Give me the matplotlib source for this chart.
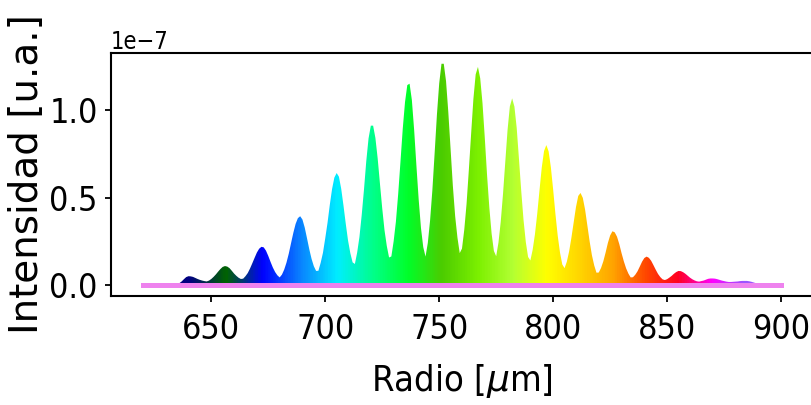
import matplotlib
matplotlib.use("Agg")
import matplotlib.pyplot as plt
from matplotlib.colors import LinearSegmentedColormap
import numpy as np

# intensity profile, one sample per micrometre (units of 1e-7)
radio = np.arange(632, 893)
intensidad = [
    0.000, 0.000, 0.002, 0.005, 0.010, 0.020, 0.033, 0.045, 0.050, 0.049,  # 632-641
    0.046, 0.040, 0.034, 0.029, 0.025, 0.022, 0.020, 0.025, 0.034, 0.046,  # 642-651
    0.060, 0.076, 0.091, 0.103, 0.108, 0.105, 0.096, 0.081, 0.065, 0.052,  # 652-661
    0.041, 0.034, 0.036, 0.050, 0.068, 0.094, 0.124, 0.155, 0.185, 0.207,  # 662-671
    0.218, 0.215, 0.196, 0.166, 0.132, 0.100, 0.074, 0.055, 0.043, 0.059,  # 672-681
    0.088, 0.128, 0.179, 0.239, 0.298, 0.349, 0.382, 0.393, 0.374, 0.328,  # 682-691
    0.267, 0.204, 0.149, 0.107, 0.080, 0.081, 0.127, 0.184, 0.267, 0.355,  # 692-701
    0.458, 0.549, 0.614, 0.640, 0.619, 0.550, 0.454, 0.350, 0.254, 0.182,  # 702-711
    0.129, 0.120, 0.185, 0.274, 0.400, 0.546, 0.708, 0.838, 0.911, 0.911,  # 712-721
    0.841, 0.724, 0.579, 0.438, 0.313, 0.223, 0.157, 0.163, 0.249, 0.362,  # 722-731
    0.520, 0.704, 0.893, 1.046, 1.143, 1.151, 1.058, 0.887, 0.682, 0.487,  # 732-741
    0.326, 0.216, 0.162, 0.240, 0.369, 0.542, 0.755, 0.974, 1.153, 1.265,  # 742-751
    1.265, 1.165, 0.987, 0.776, 0.565, 0.393, 0.271, 0.182, 0.208, 0.316,  # 752-761
    0.463, 0.657, 0.863, 1.063, 1.204, 1.247, 1.181, 1.039, 0.841, 0.627,  # 762-771
    0.441, 0.293, 0.194, 0.164, 0.242, 0.361, 0.521, 0.705, 0.888, 1.021,  # 772-781
    1.067, 1.020, 0.898, 0.719, 0.536, 0.371, 0.245, 0.160, 0.140, 0.201,  # 782-791
    0.289, 0.406, 0.541, 0.672, 0.766, 0.800, 0.764, 0.672, 0.544, 0.405,  # 792-801
    0.281, 0.185, 0.117, 0.096, 0.133, 0.192, 0.270, 0.358, 0.445, 0.509,  # 802-811
    0.526, 0.498, 0.431, 0.340, 0.249, 0.170, 0.112, 0.070, 0.071, 0.097,  # 812-821
    0.135, 0.185, 0.240, 0.283, 0.307, 0.301, 0.276, 0.234, 0.182, 0.135,  # 822-831
    0.095, 0.065, 0.043, 0.044, 0.058, 0.078, 0.105, 0.133, 0.154, 0.162,  # 832-841
    0.155, 0.138, 0.113, 0.087, 0.063, 0.045, 0.032, 0.028, 0.033, 0.042,  # 842-851
    0.052, 0.064, 0.074, 0.080, 0.079, 0.073, 0.064, 0.053, 0.042, 0.033,  # 852-861
    0.026, 0.021, 0.019, 0.022, 0.025, 0.030, 0.035, 0.037, 0.037, 0.036,  # 862-871
    0.033, 0.029, 0.025, 0.022, 0.019, 0.017, 0.017, 0.018, 0.019, 0.020,  # 872-881
    0.022, 0.023, 0.023, 0.023, 0.021, 0.018, 0.014, 0.010, 0.006, 0.003,  # 882-891
    0.000,                                                                 # 892
]
escala = 1e-7

# colour of the fill along the radius
color_pos = [620, 640, 656, 672, 689, 705, 721, 736, 751, 767, 782, 797, 811, 826, 841, 855, 870, 884, 900]
color_val = ['navy', 'navy', 'darkgreen', 'blue', '#0a84ff', '#00eeff', '#00ff88', '#00ff2a',
             '#4ccc00', '#7cf000', '#b2ff33', '#ffff00', '#ffd700', '#ffa500', '#ff4500',
             '#ff0022', '#ff00ff', '#9a55ff', '#9a55ff']

# baseline
base_x = [620, 900]
base_y = [0, 0]

tick_x = [650, 700, 750, 800, 850, 900]
tick_y = [0, 0.5e-7, 1e-7]

plt.rcParams['font.family'] = 'DejaVu Sans'
plt.rcParams['axes.linewidth'] = 1.5

fig = plt.figure(figsize=(8.11, 4.05), dpi=100)
ax = fig.add_axes([111 / 811, 109 / 405, 702 / 811, 243.3 / 405])

y = np.array(intensidad) * escala
poly = ax.fill_between(radio, y, 0, facecolor='none', edgecolor='none')
ax.plot(base_x, base_y, color='violet', lw=3.6, zorder=3)
xl, yl = ax.get_xlim(), ax.get_ylim()

# rainbow gradient clipped to the filled profile
lo, hi = color_pos[0], color_pos[-1]
cmap = LinearSegmentedColormap.from_list(
    'arco', [((p - lo) / (hi - lo), c) for p, c in zip(color_pos, color_val)])
grad = np.linspace(0, 1, 1200)[None, :]
im = ax.imshow(grad, cmap=cmap, aspect='auto', interpolation='bilinear',
               extent=[lo, hi, 0, y.max() * 1.01], origin='lower', zorder=2)
im.set_clip_path(poly.get_paths()[0], transform=ax.transData)
ax.set_xlim(xl)
ax.set_ylim(yl)

ax.set_xticks(tick_x)
ax.set_yticks(tick_y)
ax.tick_params(length=4.5, width=1.3, labelsize=24.5)
ax.tick_params(axis='x', pad=8)
ax.tick_params(axis='y', pad=5)
for lab in ax.get_xticklabels() + ax.get_yticklabels():
    lab.set_fontstretch('condensed')
off = ax.yaxis.get_offset_text()
off.set_fontsize(17)
off.set_fontstretch('condensed')

ax.set_xlabel(r'Radio [$\mu$m]', fontsize=26, fontstretch='condensed')
ax.xaxis.set_label_coords(0.5, -0.27)
ax.set_ylabel('Intensidad [u.a.]', fontsize=28)
ax.yaxis.set_label_coords(-0.093, 0.5)

fig.savefig('out.png', dpi=100)
